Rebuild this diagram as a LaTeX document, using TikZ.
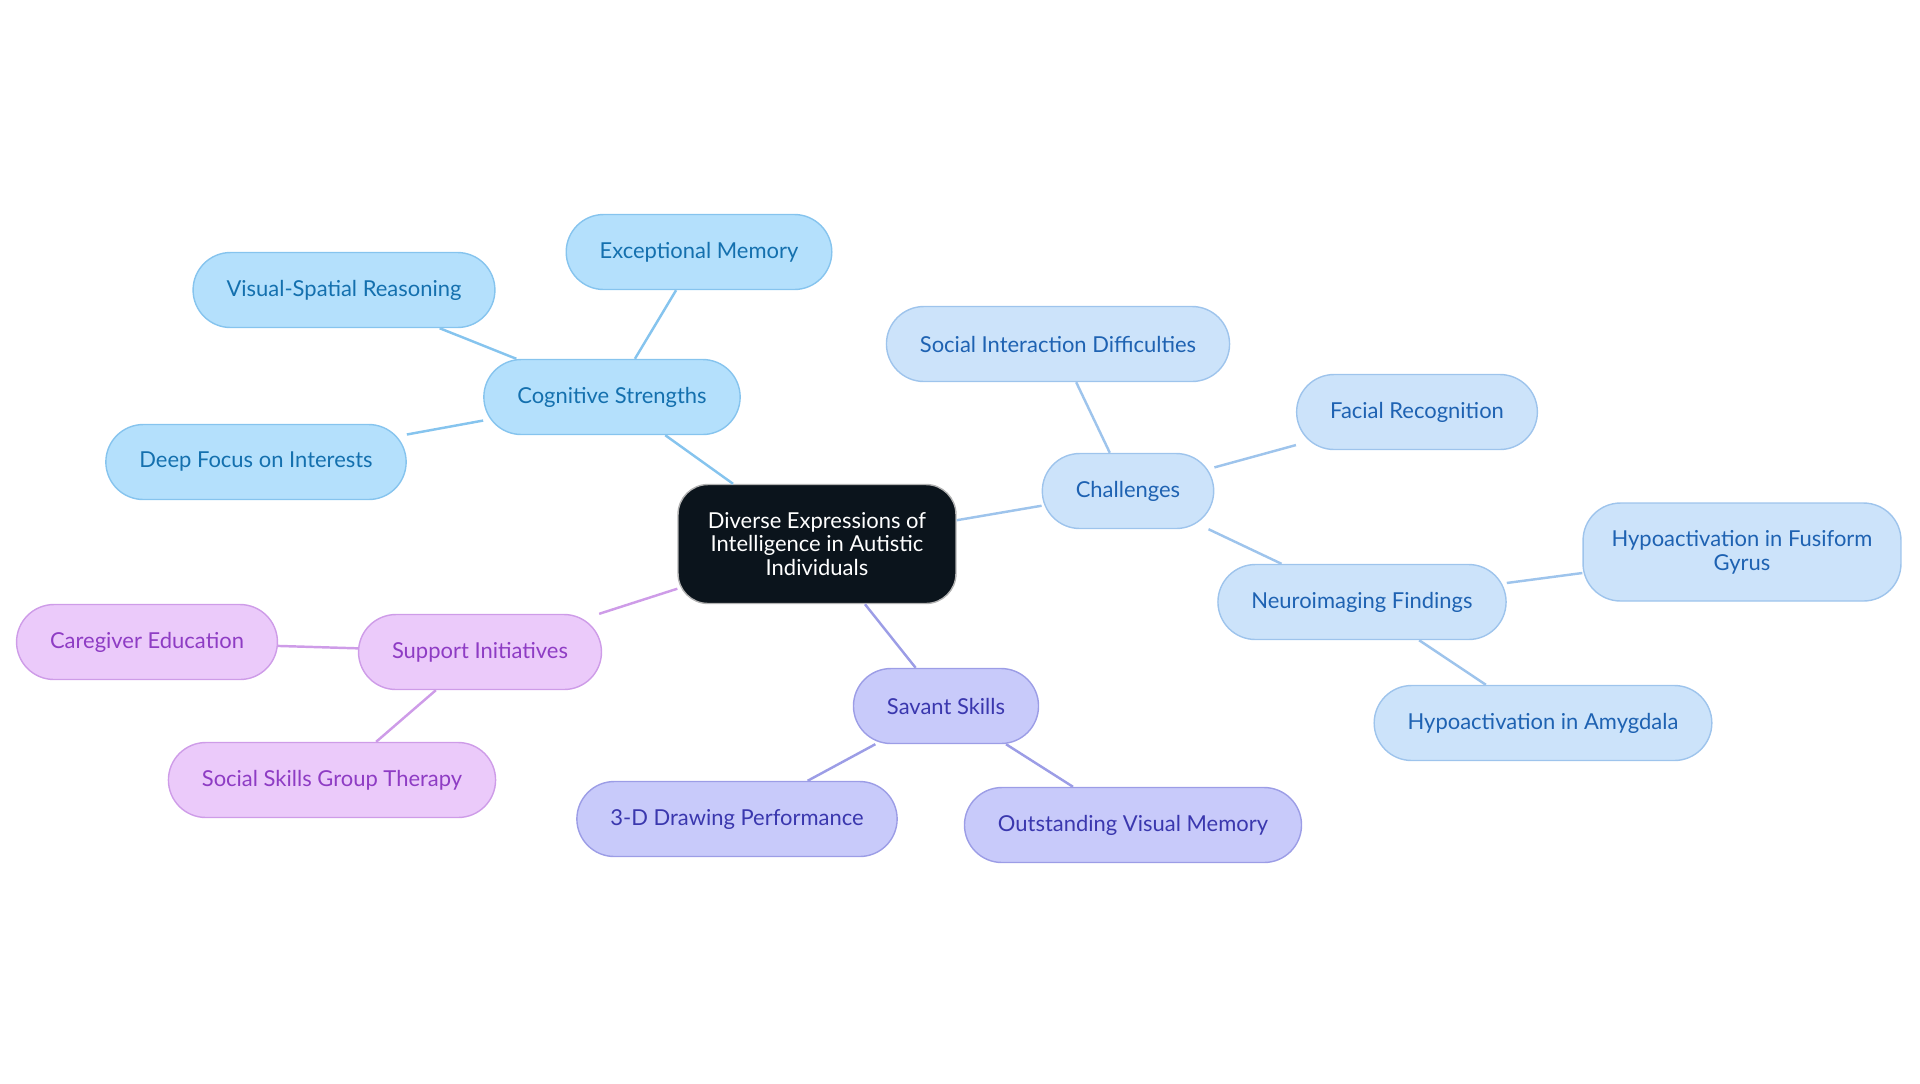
\documentclass[tikz,border=0pt]{standalone}
\usepackage{fontspec}
\setmainfont{Lato}
\usepackage{tikz}

\definecolor{rootfill}{HTML}{0B141C}
\definecolor{cogfill}{HTML}{B4E0FC}
\definecolor{cogdraw}{HTML}{86C4EE}
\definecolor{cogtext}{HTML}{1470AE}
\definecolor{chalfill}{HTML}{CCE3FA}
\definecolor{chaldraw}{HTML}{9EC4EC}
\definecolor{chaltext}{HTML}{1E62B2}
\definecolor{savfill}{HTML}{C8CAFA}
\definecolor{savdraw}{HTML}{9C9DE6}
\definecolor{savtext}{HTML}{3A37AE}
\definecolor{supfill}{HTML}{EBCAFA}
\definecolor{supdraw}{HTML}{CE9CE8}
\definecolor{suptext}{HTML}{8E3CC4}

\begin{document}
\begin{tikzpicture}[
  x=0.02cm, y=-0.02cm,
  every node/.style={rounded corners=0.75cm, draw, line width=0.8pt, minimum height=1.5cm,
    inner xsep=0.67cm, font=\fontsize{12.5}{13.5}\selectfont},
  root/.style={fill=rootfill, draw=gray!60, text=white, rounded corners=0.6cm,
    minimum width=5.56cm, minimum height=2.38cm, align=center, inner xsep=0pt},
  cog/.style={fill=cogfill, draw=cogdraw, text=cogtext},
  chal/.style={fill=chalfill, draw=chaldraw, text=chaltext},
  sav/.style={fill=savfill, draw=savdraw, text=savtext},
  sup/.style={fill=supfill, draw=supdraw, text=suptext},
  cogline/.style={draw=cogdraw, line width=1.4pt},
  challine/.style={draw=chaldraw, line width=1.4pt},
  savline/.style={draw=savdraw, line width=1.4pt},
  supline/.style={draw=supdraw, line width=1.4pt}
]
\path[use as bounding box] (0,0) rectangle (1920,1083);

\node[root] (diverse) at (817,544) {Diverse Expressions of\\Intelligence in Autistic\\Individuals};

% cognitive strengths
\node[cog] (cognitive) at (612,397) {Cognitive Strengths};
\node[cog] (memory) at (699,252) {Exceptional Memory};
\node[cog] (visual) at (344,290) {Visual-Spatial Reasoning};
\node[cog] (focus) at (256,462) {Deep Focus on Interests};

% challenges
\node[chal] (challenges) at (1128,491) {Challenges};
\node[chal] (social) at (1058,344) {Social Interaction Difficulties};
\node[chal] (facial) at (1417,412) {Facial Recognition};
\node[chal] (neuro) at (1362,602) {Neuroimaging Findings};
\node[chal, align=center, inner xsep=0pt, minimum width=6.36cm, minimum height=1.96cm] (fusiform) at (1742,552) {Hypoactivation in Fusiform\\Gyrus};
\node[chal] (amygdala) at (1543,723) {Hypoactivation in Amygdala};

% savant skills
\node[sav] (savant) at (946,706) {Savant Skills};
\node[sav] (drawing) at (737,819) {3-D Drawing Performance};
\node[sav] (vismem) at (1133,825) {Outstanding Visual Memory};

% support initiatives
\node[sup] (support) at (480,652) {Support Initiatives};
\node[sup] (caregiver) at (147,642) {Caregiver Education};
\node[sup] (group) at (332,780) {Social Skills Group Therapy};

\draw[cogline] (diverse) -- (cognitive);
\draw[cogline] (cognitive) -- (memory);
\draw[cogline] (cognitive) -- (visual);
\draw[cogline] (cognitive) -- (focus);
\draw[challine] (diverse) -- (challenges);
\draw[challine] (challenges) -- (social);
\draw[challine] (challenges) -- (facial);
\draw[challine] (challenges) -- (neuro);
\draw[challine] (neuro) -- (fusiform);
\draw[challine] (neuro) -- (amygdala);
\draw[savline] (diverse) -- (savant);
\draw[savline] (savant) -- (drawing);
\draw[savline] (savant) -- (vismem);
\draw[supline] (diverse) -- (support);
\draw[supline] (support) -- (caregiver);
\draw[supline] (support) -- (group);
\end{tikzpicture}
\end{document}
